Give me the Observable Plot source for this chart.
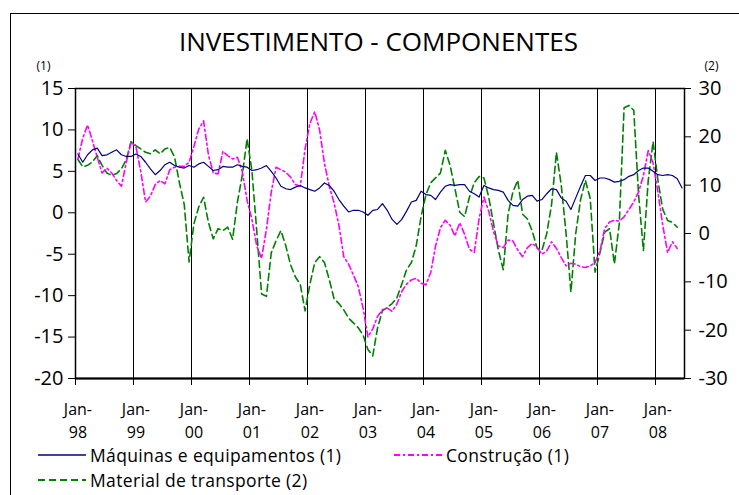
<!DOCTYPE html>
<html>
<head>
<meta charset="utf-8">
<script src="https://cdn.jsdelivr.net/npm/d3@7"></script>
<script src="https://cdn.jsdelivr.net/npm/@observablehq/plot@0.6"></script>
<style>
  body { margin: 0; background: #fff; font-family: "Open Sans", sans-serif; color: #000; }
  #wrap { position: relative; width: 739px; height: 495px; overflow: hidden; }
  #border { position: absolute; left: 10px; top: 13px; width: 800px; height: 600px; border: 1.5px solid #000; }
  #title { position: absolute; left: 0; top: 23px; width: 757px; text-align: center; font-size: 26px; line-height: 36px; white-space: nowrap; }
  #chart { position: absolute; left: 0; top: 60px; }
  .leg { position: absolute; font-size: 17.5px; letter-spacing: 0.35px; line-height: 20px; white-space: nowrap; display: flex; align-items: center; height: 20px; }
  .leg svg { margin-right: 4px; }
</style>
</head>
<body>
<div id="wrap">
  <div id="border"></div>
  <div id="title">INVESTIMENTO - COMPONENTES</div>
  <div id="chart"></div>
  <div class="leg" style="left:38px; top:445px;"><svg width="48" height="6"><line x1="0" y1="3" x2="48" y2="3" stroke="#000080" stroke-width="1.3"/></svg>Máquinas e equipamentos (1)</div>
  <div class="leg" style="left:394px; top:445px;"><svg width="48" height="6"><line x1="0" y1="3" x2="48" y2="3" stroke="#ff00ff" stroke-width="2" stroke-dasharray="6,3,2,3"/></svg>Construção (1)</div>
  <div class="leg" style="left:38px; top:470px;"><svg width="48" height="6"><line x1="0" y1="3" x2="48" y2="3" stroke="#008000" stroke-width="2" stroke-dasharray="7,4"/></svg>Material de transporte (2)</div>
</div>
<script>
// Monthly series, Jan-98 .. Jun-08
const maquinas = [
  7.1,6.1,7.0,7.6,7.8,6.9,7.0,7.3,7.6,7.0,6.8,6.8,
  7.1,6.8,6.1,5.3,4.6,5.1,5.8,6.1,5.7,5.5,5.4,5.7,
  5.5,5.9,6.1,5.6,5.1,5.2,5.6,5.5,5.5,5.8,5.6,5.5,
  5.1,5.2,5.4,5.7,5.0,4.2,3.2,2.9,2.8,3.1,3.3,3.0,
  2.8,2.6,3.0,3.6,3.3,2.6,1.6,0.8,0.1,0.3,0.3,0.1,
  -0.3,0.3,0.4,1.1,0.3,-0.8,-1.4,-0.8,0.2,1.3,1.5,2.6,
  2.2,2.1,1.6,2.5,3.2,3.4,3.3,3.4,3.4,2.6,2.3,1.9,
  3.3,3.0,2.8,2.7,2.5,1.5,0.9,0.8,1.6,2.0,2.1,1.4,
  1.6,2.3,2.9,2.8,1.8,1.4,0.4,1.8,3.2,4.5,4.5,3.9,
  4.2,4.2,4.0,3.7,3.8,4.0,4.4,4.6,5.1,5.4,5.4,5.0,
  4.6,4.5,4.6,4.5,4.1,3.0
];
const construcao = [
  6.5,9.0,10.6,8.7,6.7,4.8,5.4,4.8,3.9,3.2,6.1,8.5,
  8.0,5.0,1.3,2.0,3.4,3.9,3.5,5.2,5.5,5.6,5.6,6.1,
  8.0,10.1,11.1,7.0,4.8,4.7,7.4,6.9,6.5,6.7,5.0,1.5,
  -0.8,-4.0,-5.5,-2.0,2.5,5.5,5.2,4.9,4.3,3.4,3.2,7.7,
  10.8,12.2,10.0,6.0,3.2,1.2,-1.5,-5.3,-6.2,-7.5,-8.9,-11.5,
  -15.0,-14.0,-12.5,-11.7,-11.5,-11.9,-11.0,-9.5,-8.6,-8.1,-7.9,-8.5,
  -8.7,-7.2,-4.0,-1.8,-0.9,-1.5,-2.8,-1.2,-2.6,-4.4,-4.8,-0.7,
  1.9,0.2,-2.3,-4.0,-4.2,-3.3,-3.4,-4.5,-5.3,-4.2,-3.7,-4.2,
  -5.0,-4.6,-3.5,-4.3,-5.4,-6.4,-6.1,-6.2,-6.5,-6.6,-6.4,-6.0,
  -4.6,-1.9,-1.1,-0.9,-1.0,-0.5,0.4,1.3,2.5,4.5,7.5,6.0,
  2.5,-1.5,-4.8,-3.5,-4.3,null
];
const transporte = [
  15.3,13.8,14.1,14.8,16.1,14.1,12.5,12.0,12.4,13.4,15.3,19.0,
  18.2,17.5,16.8,16.5,17.3,16.5,17.5,17.8,15.8,10.5,6.0,-5.9,
  2.0,5.5,7.5,2.3,-1.1,1.0,0.6,1.3,-1.2,6.5,12.0,19.6,
  13.0,0.5,-12.5,-13.0,-4.0,-1.5,0.6,-2.5,-6.5,-9.0,-10.5,-16.0,
  -10.5,-6.0,-4.8,-6.0,-9.5,-13.5,-14.5,-15.8,-17.5,-18.5,-19.5,-21.0,
  -24.0,-25.3,-19.5,-16.0,-15.3,-14.5,-13.3,-10.5,-7.5,-6.0,-2.5,3.5,
  8.0,10.5,11.5,12.5,17.2,14.1,9.3,4.4,3.5,7.5,10.5,11.8,
  11.5,7.5,2.0,-3.5,-7.5,4.0,8.6,11.0,4.0,3.0,0.5,-3.0,
  -3.5,0.0,6.0,16.8,10.0,0.0,-12.1,0.0,7.0,11.0,7.2,-8.0,
  -4.0,0.3,1.0,-6.3,2.0,26.0,26.5,25.5,8.0,-3.5,11.0,19.0,
  11.0,5.0,2.7,2.3,1.3,null
];
const tickLabels = ["Jan-98","Jan-99","Jan-00","Jan-01","Jan-02","Jan-03","Jan-04","Jan-05","Jan-06","Jan-07","Jan-08"];
const leftTicks = [-20,-15,-10,-5,0,5,10,15];
const rightTicks = [-30,-20,-10,0,10,20,30];

// right axis (2) [-30,30] mapped onto left axis (1) [-20,15]
const toLeft = r => (r + 30) * 35 / 60 - 20;
const toRight = l => (l + 20) * 60 / 35 - 30;

const data = maquinas.map((v, i) => ({
  i,
  maq: v,
  cons: construcao[i] == null ? NaN : construcao[i],
  transp: transporte[i] == null ? NaN : toLeft(transporte[i])
}));
const yearStarts = tickLabels.map((_, k) => k * 12 - 0.5);      // category boundaries at each January
const labelData = tickLabels.map((t, k) => ({i: k * 12, label: t.replace("-", "-\n")}));

const chart = Plot.plot({
  width: 739,
  height: 390,
  marginTop: 28,
  marginBottom: 72,
  marginLeft: 75,
  marginRight: 55,
  x: {domain: [-0.5, maquinas.length - 0.5], axis: null},
  y: {domain: [-20, 15], axis: null},
  style: {fontFamily: "Open Sans", color: "#000", background: "transparent", overflow: "visible"},
  marks: [
    Plot.ruleX(yearStarts.slice(1), {stroke: "#000", strokeWidth: 1}),
    Plot.line(data, {x: "i", y: "transp", stroke: "#008000", strokeWidth: 1.6, strokeDasharray: "7,4"}),
    Plot.line(data, {x: "i", y: "cons", stroke: "#ff00ff", strokeWidth: 1.6, strokeDasharray: "6,3,2,3"}),
    Plot.line(data, {x: "i", y: "maq", stroke: "#000080", strokeWidth: 1.2}),
    Plot.frame({stroke: "#000", strokeWidth: 1.5}),
    Plot.ruleY([-20], {stroke: "#000", strokeWidth: 2}),
    Plot.axisY({anchor: "left", ticks: leftTicks, tickSize: 7, tickPadding: 5, fontSize: 20, tickFormat: d => String(d), label: null}),
    Plot.axisY({anchor: "right", ticks: rightTicks.map(toLeft), tickSize: 6, tickPadding: 8, fontSize: 20, tickFormat: d => String(Math.round(toRight(d))), label: null}),
    Plot.axisX({anchor: "bottom", ticks: yearStarts, tickSize: 7, tickFormat: () => "", label: null}),
    Plot.text(labelData, {x: "i", text: "label", frameAnchor: "bottom", lineAnchor: "top", dy: 20, fontSize: 16, lineHeight: 1.45}),
    Plot.text(["(1)"], {frameAnchor: "top-left", text: d => d, textAnchor: "middle", lineAnchor: "bottom", dx: -32, dy: -19, fontSize: 12}),
    Plot.text(["(2)"], {frameAnchor: "top-right", text: d => d, textAnchor: "middle", lineAnchor: "bottom", dx: 27, dy: -19, fontSize: 12})
  ]
});
document.getElementById("chart").appendChild(chart);
</script>
</body>
</html>
